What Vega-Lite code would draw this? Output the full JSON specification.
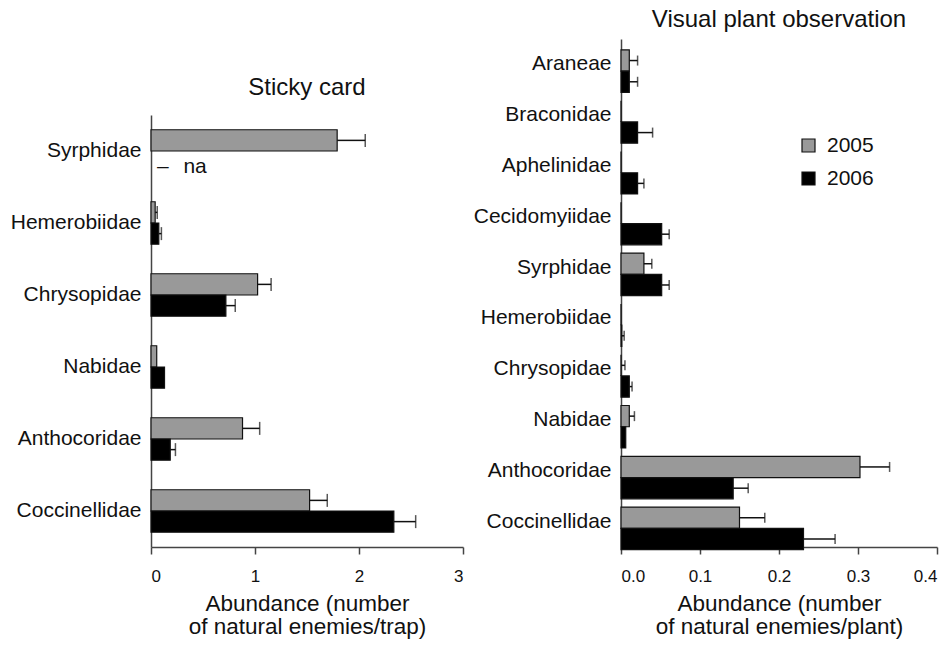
{
  "$schema": "https://vega.github.io/schema/vega-lite/v6.json",
  "background": "white",
  "padding": {"left": 10, "top": 8, "right": 5, "bottom": 5},
  "bounds": "flush",
  "spacing": 158,
  "config": {
    "view": {"stroke": null},
    "font": "Liberation Sans",
    "axis": {"domainColor": "#444", "domainWidth": 1.5, "tickColor": "#444", "tickWidth": 1.5, "labelColor": "#111", "titleColor": "#111", "labelFont": "Liberation Sans", "titleFont": "Liberation Sans", "grid": false, "titleFontWeight": "normal"},
    "title": {"font": "Liberation Sans", "fontSize": 24, "fontWeight": "normal", "color": "#111", "anchor": "middle", "frame": "group"},
    "legend": {"labelFont": "Liberation Sans"}
  },
  "datasets": {
    "sticky": [
      {"family": "Syrphidae", "year": "2005", "value": 1.79, "hi": 2.06},
      {"family": "Hemerobiidae", "year": "2005", "value": 0.04, "hi": 0.06},
      {"family": "Hemerobiidae", "year": "2006", "value": 0.075, "hi": 0.10},
      {"family": "Chrysopidae", "year": "2005", "value": 1.025, "hi": 1.155},
      {"family": "Chrysopidae", "year": "2006", "value": 0.72, "hi": 0.81},
      {"family": "Nabidae", "year": "2005", "value": 0.055, "hi": null},
      {"family": "Nabidae", "year": "2006", "value": 0.13, "hi": null},
      {"family": "Anthocoridae", "year": "2005", "value": 0.88, "hi": 1.045},
      {"family": "Anthocoridae", "year": "2006", "value": 0.185, "hi": 0.235},
      {"family": "Coccinellidae", "year": "2005", "value": 1.525, "hi": 1.695},
      {"family": "Coccinellidae", "year": "2006", "value": 2.335, "hi": 2.545}
    ],
    "sticky_na": [
      {"family": "Syrphidae", "year": "2006", "value": 0, "label": "–\u2002\u2009na"}
    ],
    "visual": [
      {"family": "Araneae", "year": "2005", "value": 0.0105, "hi": 0.021},
      {"family": "Araneae", "year": "2006", "value": 0.0105, "hi": 0.021},
      {"family": "Braconidae", "year": "2005", "value": 0, "hi": null},
      {"family": "Braconidae", "year": "2006", "value": 0.021, "hi": 0.040},
      {"family": "Aphelinidae", "year": "2005", "value": 0, "hi": null},
      {"family": "Aphelinidae", "year": "2006", "value": 0.021, "hi": 0.029},
      {"family": "Cecidomyiidae", "year": "2005", "value": 0, "hi": null},
      {"family": "Cecidomyiidae", "year": "2006", "value": 0.0515, "hi": 0.061},
      {"family": "Syrphidae", "year": "2005", "value": 0.029, "hi": 0.039},
      {"family": "Syrphidae", "year": "2006", "value": 0.0515, "hi": 0.061},
      {"family": "Hemerobiidae", "year": "2005", "value": 0, "hi": null},
      {"family": "Hemerobiidae", "year": "2006", "value": 0.001, "hi": 0.004},
      {"family": "Chrysopidae", "year": "2005", "value": 0, "hi": 0.005},
      {"family": "Chrysopidae", "year": "2006", "value": 0.0105, "hi": 0.014},
      {"family": "Nabidae", "year": "2005", "value": 0.0105, "hi": 0.017},
      {"family": "Nabidae", "year": "2006", "value": 0.006, "hi": null},
      {"family": "Anthocoridae", "year": "2005", "value": 0.3025, "hi": 0.34},
      {"family": "Anthocoridae", "year": "2006", "value": 0.142, "hi": 0.161},
      {"family": "Coccinellidae", "year": "2005", "value": 0.15, "hi": 0.182},
      {"family": "Coccinellidae", "year": "2006", "value": 0.231, "hi": 0.271}
    ]
  },
  "resolve": {"scale": {"x": "independent", "y": "independent", "color": "shared"}, "legend": {"color": "independent"}},
  "hconcat": [
    {
      "width": 312,
      "height": 508,
      "title": {"text": "Sticky card", "offset": -61},
      "encoding": {
        "y": {"field": "family", "type": "nominal",
              "sort": ["Syrphidae", "Hemerobiidae", "Chrysopidae", "Nabidae", "Anthocoridae", "Coccinellidae"],
              "scale": {"range": [76, 508], "paddingInner": 0.41, "paddingOuter": 0.205},
              "axis": {"title": null, "ticks": false, "labelPadding": 10, "labelFontSize": 21}},
        "yOffset": {"field": "year", "type": "nominal", "scale": {"domain": ["2005", "2006"]}}
      },
      "layer": [
        {
          "data": {"name": "sticky"},
          "mark": {"type": "bar", "stroke": "#111", "strokeWidth": 1.2},
          "encoding": {
            "x": {"field": "value", "type": "quantitative",
                  "scale": {"domain": [0, 3], "nice": false},
                  "axis": {"values": [0, 1, 2, 3], "format": "d", "tickSize": 7, "labelFontSize": 17, "labelPadding": 14,
                           "title": ["Abundance (number", "of natural enemies/trap)"], "titleFontSize": 22.5, "titleLineHeight": 23, "titlePadding": 8}},
            "color": {"field": "year", "type": "nominal", "scale": {"domain": ["2005", "2006"], "range": ["#999999", "#000000"]}, "legend": null}
          }
        },
        {
          "data": {"name": "sticky"},
          "transform": [{"filter": "datum.hi != null"}],
          "mark": {"type": "rule", "color": "#111", "strokeWidth": 1.5},
          "encoding": {
            "x": {"field": "value", "type": "quantitative"},
            "x2": {"field": "hi"}
          }
        },
        {
          "data": {"name": "sticky"},
          "transform": [{"filter": "datum.hi != null"}],
          "mark": {"type": "tick", "color": "#111", "thickness": 1.5, "size": 13},
          "encoding": {
            "x": {"field": "hi", "type": "quantitative"}
          }
        },
        {
          "data": {"name": "sticky_na"},
          "mark": {"type": "text", "align": "left", "baseline": "middle", "dx": 6, "dy": 5, "fontSize": 21, "color": "#111"},
          "encoding": {
            "x": {"field": "value", "type": "quantitative"},
            "text": {"field": "label"}
          }
        }
      ]
    },
    {
      "width": 316,
      "height": 508,
      "title": {"text": "Visual plant observation", "offset": 7},
      "encoding": {
        "y": {"field": "family", "type": "nominal",
              "sort": ["Araneae", "Braconidae", "Aphelinidae", "Cecidomyiidae", "Syrphidae", "Hemerobiidae", "Chrysopidae", "Nabidae", "Anthocoridae", "Coccinellidae"],
              "scale": {"paddingInner": 0.43, "paddingOuter": 0.215},
              "axis": {"title": null, "ticks": false, "labelPadding": 10, "labelFontSize": 21}},
        "yOffset": {"field": "year", "type": "nominal", "scale": {"domain": ["2005", "2006"]}}
      },
      "layer": [
        {
          "data": {"name": "visual"},
          "mark": {"type": "bar", "stroke": "#111", "strokeWidth": 1.2},
          "encoding": {
            "x": {"field": "value", "type": "quantitative",
                  "scale": {"domain": [0, 0.4], "nice": false},
                  "axis": {"values": [0, 0.1, 0.2, 0.3, 0.4], "format": ".1f", "tickSize": 7, "labelFontSize": 17, "labelPadding": 14,
                           "title": ["Abundance (number", "of natural enemies/plant)"], "titleFontSize": 22.5, "titleLineHeight": 23, "titlePadding": 8}},
            "color": {"field": "year", "type": "nominal", "scale": {"domain": ["2005", "2006"], "range": ["#999999", "#000000"]},
                      "legend": {"orient": "none", "legendX": 177, "legendY": 96, "title": null, "padding": 0,
                                 "symbolType": "square", "symbolSize": 169, "symbolStrokeColor": "#111", "symbolStrokeWidth": 1.2,
                                 "labelFontSize": 21, "labelColor": "#111", "labelOffset": 8, "rowPadding": 11}}
          }
        },
        {
          "data": {"name": "visual"},
          "transform": [{"filter": "datum.hi != null"}],
          "mark": {"type": "rule", "color": "#111", "strokeWidth": 1.5},
          "encoding": {
            "x": {"field": "value", "type": "quantitative"},
            "x2": {"field": "hi"}
          }
        },
        {
          "data": {"name": "visual"},
          "transform": [{"filter": "datum.hi != null"}],
          "mark": {"type": "tick", "color": "#111", "thickness": 1.5, "size": 10},
          "encoding": {
            "x": {"field": "hi", "type": "quantitative"}
          }
        }
      ]
    }
  ]
}
